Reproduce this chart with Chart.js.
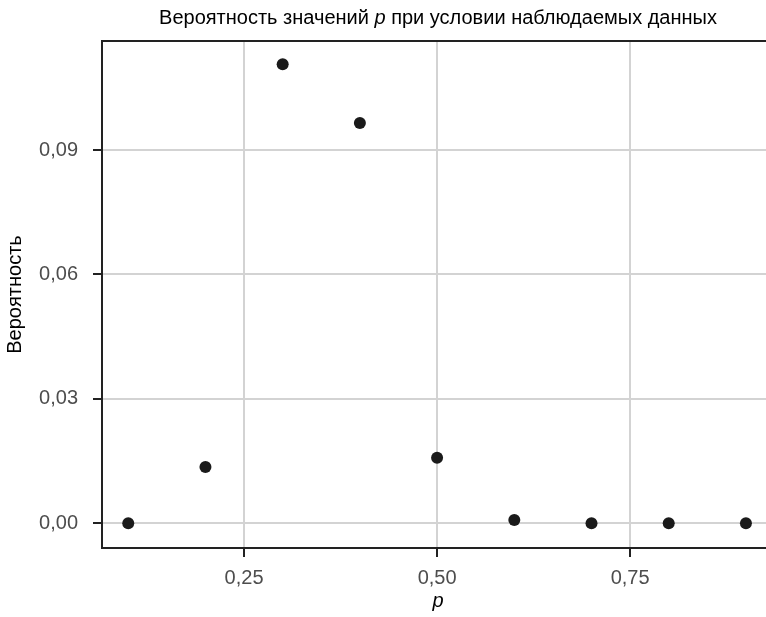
<!DOCTYPE html>
<html>
<head>
<meta charset="utf-8">
<script src="https://cdn.jsdelivr.net/npm/chart.js@4"></script>
<style>
  html, body { margin: 0; padding: 0; background: #ffffff; }
  canvas { display: block; }
</style>
</head>
<body>
<canvas id="c" width="766" height="617"></canvas>
<script>
// ---- data ----
const pValues = [0.1, 0.2, 0.3, 0.4, 0.5, 0.6, 0.7, 0.8, 0.9];
const probabilities = [0.0000, 0.0136, 0.1107, 0.0965, 0.0158, 0.0008, 0.0000, 0.0000, 0.0000];
const xTickValues = [0.25, 0.50, 0.75];
const xTickLabels = ['0,25', '0,50', '0,75'];
const yTickValues = [0.00, 0.03, 0.06, 0.09];
const yTickLabels = ['0,00', '0,03', '0,06', '0,09'];
const titleParts = [
  { text: 'Вероятность значений ', italic: false },
  { text: 'p', italic: true },
  { text: ' при условии наблюдаемых данных', italic: false }
];
const xAxisTitle = 'p';
const yAxisTitle = 'Вероятность';

const FONT = '"Liberation Sans", Arial, Helvetica, sans-serif';
const FS = 20;
const BORDER = '#222222';
const GRID = '#d3d3d3';

const points = pValues.map((p, i) => ({ x: p, y: probabilities[i] }));

const decorPlugin = {
  id: 'decor',
  afterDraw(chart) {
    const ctx = chart.ctx;
    const a = chart.chartArea;
    ctx.save();
    // top border of panel
    ctx.strokeStyle = BORDER;
    ctx.lineWidth = 2;
    ctx.beginPath();
    ctx.moveTo(a.left - 1, a.top);
    ctx.lineTo(chart.width, a.top);
    ctx.stroke();
    // main title (mixed italic)
    const normal = FS + 'px ' + FONT;
    const italic = 'italic ' + FS + 'px ' + FONT;
    let total = 0;
    titleParts.forEach(t => { ctx.font = t.italic ? italic : normal; total += ctx.measureText(t.text).width; });
    let x = 438 - total / 2;
    ctx.fillStyle = '#000000';
    ctx.textBaseline = 'middle';
    ctx.textAlign = 'left';
    titleParts.forEach(t => {
      ctx.font = t.italic ? italic : normal;
      ctx.fillText(t.text, x, 18);
      x += ctx.measureText(t.text).width;
    });
    // x axis title
    ctx.font = italic;
    ctx.textAlign = 'center';
    ctx.fillText(xAxisTitle, 438, 601);
    ctx.restore();
  }
};

new Chart(document.getElementById('c'), {
  type: 'scatter',
  data: {
    datasets: [{
      data: points,
      backgroundColor: '#1a1a1a',
      borderWidth: 0,
      pointRadius: 6,
      pointHoverRadius: 6
    }]
  },
  options: {
    responsive: false,
    animation: false,
    events: [],
    layout: { autoPadding: false, padding: { top: 41, right: 0, bottom: 0, left: 0 } },
    plugins: { legend: { display: false }, tooltip: { enabled: false }, title: { display: false } },
    scales: {
      x: {
        type: 'linear',
        min: 0.066,
        max: 0.926,
        afterBuildTicks(scale) { scale.ticks = xTickValues.map(v => ({ value: v })); },
        afterFit(scale) { scale.height = 69; },
        ticks: {
          autoSkip: false,
          maxRotation: 0,
          color: '#4d4d4d',
          font: { family: FONT, size: FS },
          padding: 9,
          callback(v) { const i = xTickValues.indexOf(v); return i >= 0 ? xTickLabels[i] : ''; }
        },
        grid: { color: GRID, lineWidth: 2, drawTicks: true, tickLength: 9, tickColor: BORDER, tickWidth: 2 },
        border: { display: true, color: BORDER, width: 2 }
      },
      y: {
        type: 'linear',
        min: -0.00596,
        max: 0.1163,
        afterBuildTicks(scale) { scale.ticks = yTickValues.map(v => ({ value: v })); },
        afterFit(scale) { scale.width = 102; },
        ticks: {
          autoSkip: false,
          color: '#4d4d4d',
          font: { family: FONT, size: FS },
          padding: 15,
          callback(v) { const i = yTickValues.indexOf(v); return i >= 0 ? yTickLabels[i] : ''; }
        },
        grid: { color: GRID, lineWidth: 2, drawTicks: true, tickLength: 9, tickColor: BORDER, tickWidth: 2 },
        border: { display: true, color: BORDER, width: 2 },
        title: {
          display: true,
          text: yAxisTitle,
          color: '#000000',
          font: { family: FONT, size: FS, lineHeight: 1.2 },
          padding: { top: 3, bottom: 0 }
        }
      }
    }
  },
  plugins: [decorPlugin]
});
</script>
</body>
</html>
